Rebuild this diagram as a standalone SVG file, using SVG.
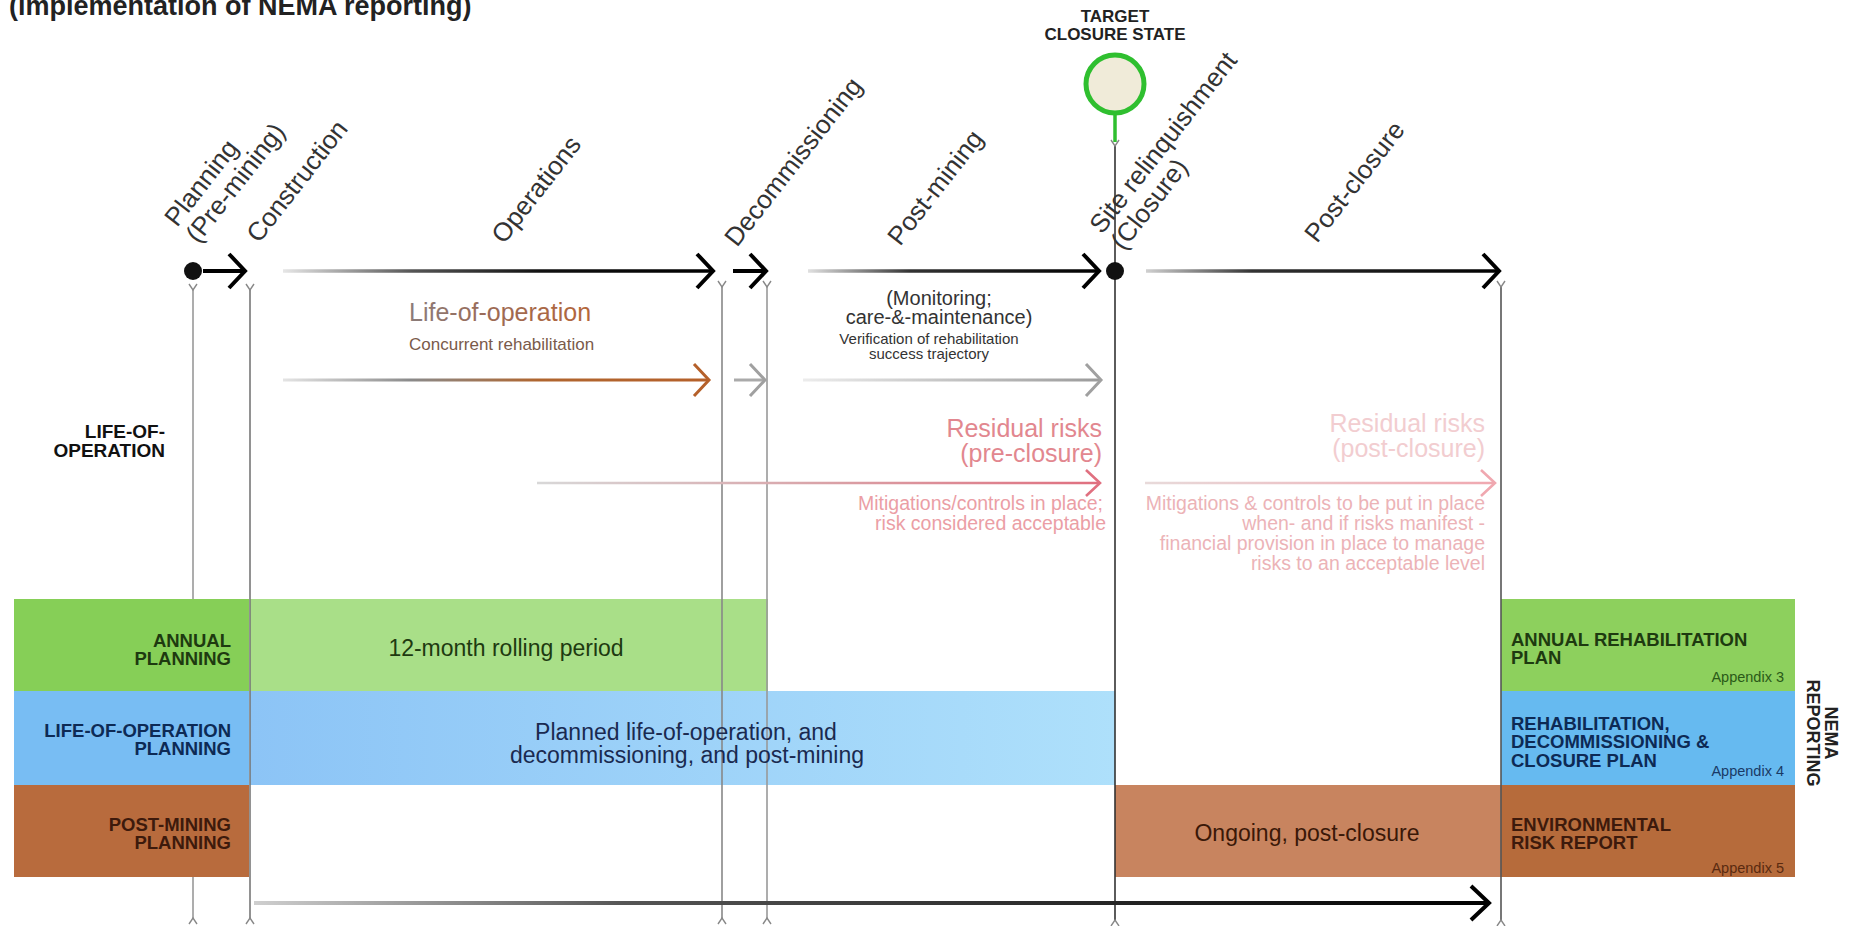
<svg xmlns="http://www.w3.org/2000/svg" width="1850" height="926" viewBox="0 0 1850 926">
<style>
text{font-family:"Liberation Sans",Arial,sans-serif}
.phase{font-size:26px;fill:#333}
.title{font-size:27px;font-weight:bold;fill:#222}
.lbl{font-size:18.5px;font-weight:bold;text-anchor:end}
.rlbl{font-size:18.5px;font-weight:bold}
.app{font-size:14.5px;text-anchor:end}
.bar{font-size:23px;text-anchor:middle}
.vline{fill:none;stroke-width:1.6;marker-start:url(#fork);marker-end:url(#caret)}
</style>
<defs>
<marker id="fork" viewBox="-10 -10 20 20" markerWidth="20" markerHeight="20" refX="0" refY="0" orient="auto" markerUnits="userSpaceOnUse" overflow="visible"><path d="M-6,-4 L0,0 L-6,4" fill="none" stroke="#888" stroke-width="1.4"/></marker>
<marker id="caret" viewBox="-10 -10 20 20" markerWidth="20" markerHeight="20" refX="0" refY="0" orient="auto" markerUnits="userSpaceOnUse" overflow="visible"><path d="M6,-4 L0,0 L6,4" fill="none" stroke="#888" stroke-width="1.4"/></marker>
<marker id="aBlack" viewBox="-25 -25 30 50" markerWidth="30" markerHeight="50" refX="0" refY="0" orient="auto" markerUnits="userSpaceOnUse" overflow="visible"><path d="M-16,-17 L0,0 L-16,17" fill="none" stroke="#000" stroke-width="4"/></marker>
<marker id="aBrown" viewBox="-25 -25 30 50" markerWidth="30" markerHeight="50" refX="0" refY="0" orient="auto" markerUnits="userSpaceOnUse" overflow="visible"><path d="M-15,-16 L0,0 L-15,16" fill="none" stroke="#b5602a" stroke-width="3"/></marker>
<marker id="aGray" viewBox="-25 -25 30 50" markerWidth="30" markerHeight="50" refX="0" refY="0" orient="auto" markerUnits="userSpaceOnUse" overflow="visible"><path d="M-15,-16 L0,0 L-15,16" fill="none" stroke="#a0a0a0" stroke-width="3"/></marker>
<marker id="aPink" viewBox="-25 -25 30 50" markerWidth="30" markerHeight="50" refX="0" refY="0" orient="auto" markerUnits="userSpaceOnUse" overflow="visible"><path d="M-14,-13 L0,0 L-14,13" fill="none" stroke="#e07080" stroke-width="2.6"/></marker>
<marker id="aLPink" viewBox="-25 -25 30 50" markerWidth="30" markerHeight="50" refX="0" refY="0" orient="auto" markerUnits="userSpaceOnUse" overflow="visible"><path d="M-14,-13 L0,0 L-14,13" fill="none" stroke="#f0a8b0" stroke-width="2.6"/></marker>
<marker id="aBig" viewBox="-25 -25 30 50" markerWidth="30" markerHeight="50" refX="0" refY="0" orient="auto" markerUnits="userSpaceOnUse" overflow="visible"><path d="M-18,-17 L0,0 L-18,17" fill="none" stroke="#000" stroke-width="4"/></marker>
<linearGradient id="gOps" gradientUnits="userSpaceOnUse" x1="283" y1="0" x2="714" y2="0"><stop offset="0" stop-color="#e6e6e6"/><stop offset="0.3" stop-color="#555"/><stop offset="0.6" stop-color="#111"/><stop offset="1" stop-color="#000"/></linearGradient>
<linearGradient id="gPost" gradientUnits="userSpaceOnUse" x1="808" y1="0" x2="1100" y2="0"><stop offset="0" stop-color="#e0e0e0"/><stop offset="0.35" stop-color="#333"/><stop offset="1" stop-color="#000"/></linearGradient>
<linearGradient id="gPC" gradientUnits="userSpaceOnUse" x1="1146" y1="0" x2="1500" y2="0"><stop offset="0" stop-color="#d0d0d0"/><stop offset="0.3" stop-color="#333"/><stop offset="1" stop-color="#000"/></linearGradient>
<linearGradient id="gBot" gradientUnits="userSpaceOnUse" x1="254" y1="0" x2="1490" y2="0"><stop offset="0" stop-color="#cfcfcf"/><stop offset="0.3" stop-color="#555"/><stop offset="1" stop-color="#000"/></linearGradient>
<linearGradient id="gBrown" gradientUnits="userSpaceOnUse" x1="283" y1="0" x2="710" y2="0"><stop offset="0" stop-color="#e4e4e4"/><stop offset="0.3" stop-color="#8a8a8a"/><stop offset="0.6" stop-color="#b0652e"/><stop offset="1" stop-color="#b5602a"/></linearGradient>
<linearGradient id="gGray" gradientUnits="userSpaceOnUse" x1="803" y1="0" x2="1102" y2="0"><stop offset="0" stop-color="#ececec"/><stop offset="1" stop-color="#9a9a9a"/></linearGradient>
<linearGradient id="gPink" gradientUnits="userSpaceOnUse" x1="537" y1="0" x2="1100" y2="0"><stop offset="0" stop-color="#d8d8d8"/><stop offset="0.5" stop-color="#d9a3a8"/><stop offset="1" stop-color="#e06f7f"/></linearGradient>
<linearGradient id="gLPink" gradientUnits="userSpaceOnUse" x1="1145" y1="0" x2="1495" y2="0"><stop offset="0" stop-color="#e8dada"/><stop offset="1" stop-color="#f0a8b0"/></linearGradient>
<linearGradient id="gLife" x1="0" y1="0" x2="1" y2="0"><stop offset="0" stop-color="#8a7c7a"/><stop offset="0.45" stop-color="#9c6a55"/><stop offset="1" stop-color="#b5663a"/></linearGradient>
<linearGradient id="gBlue" x1="0" y1="0" x2="1" y2="0"><stop offset="0" stop-color="#8cc4f6"/><stop offset="1" stop-color="#aee0fb"/></linearGradient>
</defs>
<rect width="1850" height="926" fill="#fff"/>
<g id="title"><text class="title" x="9" y="15">(implementation of NEMA reporting)</text></g>

<g id="bars">
<rect x="250" y="599" width="518" height="92" fill="#a9df88"/>
<rect x="250" y="691" width="865" height="94" fill="url(#gBlue)"/>
<rect x="1115" y="785" width="386" height="92" fill="#c8845f"/>
<rect x="1501" y="599" width="294" height="92" fill="#8dd05d"/>
<rect x="1501" y="691" width="294" height="94" fill="#66baf0"/>
<rect x="1501" y="785" width="294" height="92" fill="#b66b3b"/>
</g>

<g id="connectors">
<path class="vline" d="M193,290 V918" stroke="#999"/>
<path class="vline" d="M250,290 V918" stroke="#777"/>
<path class="vline" d="M722,287 V918" stroke="#888"/>
<path class="vline" d="M767,287 V918" stroke="#999"/>
<path class="vline" d="M1501,287 V920" stroke="#555"/>
<path d="M1115,146 V920" fill="none" stroke="#333" stroke-width="1.6" marker-start="url(#fork)" marker-end="url(#caret)"/>
<path d="M1115,115 V142" fill="none" stroke="#2fbf2f" stroke-width="3.5"/>
<path d="M203,271 H245" fill="none" stroke="#000" stroke-width="4" marker-end="url(#aBlack)"/>
<path d="M283,271 H713" fill="none" stroke="url(#gOps)" stroke-width="3.5" marker-end="url(#aBlack)"/>
<path d="M733,271 H766" fill="none" stroke="#000" stroke-width="4" marker-end="url(#aBlack)"/>
<path d="M808,271 H1099" fill="none" stroke="url(#gPost)" stroke-width="3.5" marker-end="url(#aBlack)"/>
<path d="M1146,271 H1499" fill="none" stroke="url(#gPC)" stroke-width="3.5" marker-end="url(#aBlack)"/>
<path d="M283,380 H709" fill="none" stroke="url(#gBrown)" stroke-width="3.2" marker-end="url(#aBrown)"/>
<path d="M734,380 H765" fill="none" stroke="#aaa" stroke-width="3" marker-end="url(#aGray)"/>
<path d="M803,380 H1101" fill="none" stroke="url(#gGray)" stroke-width="3" marker-end="url(#aGray)"/>
<path d="M537,483 H1100" fill="none" stroke="url(#gPink)" stroke-width="2.6" marker-end="url(#aPink)"/>
<path d="M1145,483 H1495" fill="none" stroke="url(#gLPink)" stroke-width="2.6" marker-end="url(#aLPink)"/>
<path d="M254,903 H1489" fill="none" stroke="url(#gBot)" stroke-width="4" marker-end="url(#aBig)"/>
</g>

<g id="milestone-planning"><circle cx="193" cy="271" r="9" fill="#111"/></g>
<g id="milestone-closure"><circle cx="1115" cy="271" r="9" fill="#111"/></g>
<g id="target-closure-state">
<circle cx="1115" cy="84" r="29" fill="#f0ebd9" stroke="#2fbf2f" stroke-width="5"/>
<text x="1115" y="22" text-anchor="middle" font-size="17" font-weight="bold" fill="#222">TARGET</text>
<text x="1115" y="40" text-anchor="middle" font-size="17" font-weight="bold" fill="#222">CLOSURE STATE</text>
</g>

<g id="phase-labels">
<text class="phase" transform="translate(177,228) rotate(-52)"><tspan x="0" y="0">Planning</tspan><tspan x="0" y="27">(Pre-mining)</tspan></text>
<text class="phase" transform="translate(259,244) rotate(-52)">Construction</text>
<text class="phase" transform="translate(504,245) rotate(-52)">Operations</text>
<text class="phase" transform="translate(737,248) rotate(-52)">Decommissioning</text>
<text class="phase" transform="translate(900,247) rotate(-52)">Post-mining</text>
<text class="phase" transform="translate(1102,235) rotate(-52)"><tspan x="0" y="0">Site relinquishment</tspan><tspan x="0" y="27">(Closure)</tspan></text>
<text class="phase" transform="translate(1317,244) rotate(-52)">Post-closure</text>
</g>

<g id="life-of-operation-track">
<text x="165" y="438" font-size="19" font-weight="bold" text-anchor="end" fill="#111"><tspan x="165">LIFE-OF-</tspan><tspan x="165" dy="19">OPERATION</tspan></text>
<text x="409" y="321" font-size="25" fill="url(#gLife)">Life-of-operation</text>
<text x="409" y="350" font-size="17" fill="#7a5a4a">Concurrent rehabilitation</text>
<text x="939" y="305" font-size="20" text-anchor="middle" fill="#333"><tspan x="939">(Monitoring;</tspan><tspan x="939" dy="19">care-&amp;-maintenance)</tspan></text>
<text x="929" y="344" font-size="15" text-anchor="middle" fill="#333"><tspan x="929">Verification of rehabilitation</tspan><tspan x="929" dy="15">success trajectory</tspan></text>
</g>

<g id="residual-pre">
<text x="1102" y="437" font-size="25" text-anchor="end" fill="#e2878f"><tspan x="1102">Residual risks</tspan><tspan x="1102" dy="25">(pre-closure)</tspan></text>
<text x="1103" y="510" font-size="19.5" text-anchor="end" fill="#eb9ea5"><tspan x="1103">Mitigations/controls in place;</tspan><tspan x="1106" dy="20">risk considered acceptable</tspan></text>
</g>
<g id="residual-post">
<text x="1485" y="432" font-size="25" text-anchor="end" fill="#f2cdd0"><tspan x="1485">Residual risks</tspan><tspan x="1485" dy="25">(post-closure)</tspan></text>
<text x="1485" y="510" font-size="19.5" text-anchor="end" fill="#ecb3b7"><tspan x="1485">Mitigations &amp; controls to be put in place</tspan><tspan x="1485" dy="20">when- and if risks manifest -</tspan><tspan x="1485" dy="20">financial provision in place to manage</tspan><tspan x="1485" dy="20">risks to an acceptable level</tspan></text>
</g>

<g id="annual-planning">
<rect x="14" y="599" width="235" height="92" fill="#86cf57"/>
<text class="lbl" fill="#1e3a10"><tspan x="231" y="647">ANNUAL</tspan><tspan x="231" y="665">PLANNING</tspan></text>
<text class="bar" x="506" y="656" fill="#1e3a10">12-month rolling period</text>
</g>
<g id="life-of-operation-planning">
<rect x="14" y="691" width="235" height="94" fill="#78bdf3"/>
<text class="lbl" font-size="19" fill="#0d2a55"><tspan x="231" y="737">LIFE-OF-OPERATION</tspan><tspan x="231" y="755">PLANNING</tspan></text>
<text class="bar" fill="#1a2a50"><tspan x="686" y="740">Planned life-of-operation, and</tspan><tspan x="687" y="763">decommissioning, and post-mining</tspan></text>
</g>
<g id="post-mining-planning">
<rect x="14" y="785" width="235" height="92" fill="#b86b3d"/>
<text class="lbl" fill="#3d1a0c"><tspan x="231" y="831">POST-MINING</tspan><tspan x="231" y="849">PLANNING</tspan></text>
<text class="bar" x="1307" y="841" fill="#3a1808">Ongoing, post-closure</text>
</g>

<g id="annual-rehabilitation-plan">
<text class="rlbl" font-size="19" fill="#1e3a10"><tspan x="1511" y="646">ANNUAL REHABILITATION</tspan><tspan x="1511" y="664">PLAN</tspan></text>
<text class="app" x="1784" y="682" fill="#2a5a18">Appendix 3</text>
</g>
<g id="rdc-plan">
<text class="rlbl" font-size="19" fill="#0d2a55"><tspan x="1511" y="730">REHABILITATION,</tspan><tspan x="1511" y="748">DECOMMISSIONING &amp;</tspan><tspan x="1511" y="767">CLOSURE PLAN</tspan></text>
<text class="app" x="1784" y="776" fill="#1a3a66">Appendix 4</text>
</g>
<g id="environmental-risk-report">
<text class="rlbl" font-size="19" fill="#3d1a0c"><tspan x="1511" y="831">ENVIRONMENTAL</tspan><tspan x="1511" y="849">RISK REPORT</tspan></text>
<text class="app" x="1784" y="873" fill="#5a2a10">Appendix 5</text>
</g>
<g id="nema-reporting">
<text transform="translate(1825,733) rotate(90)" font-size="18" font-weight="bold" text-anchor="middle" fill="#222"><tspan x="0" y="0">NEMA</tspan><tspan x="0" y="18">REPORTING</tspan></text>
</g>
</svg>
